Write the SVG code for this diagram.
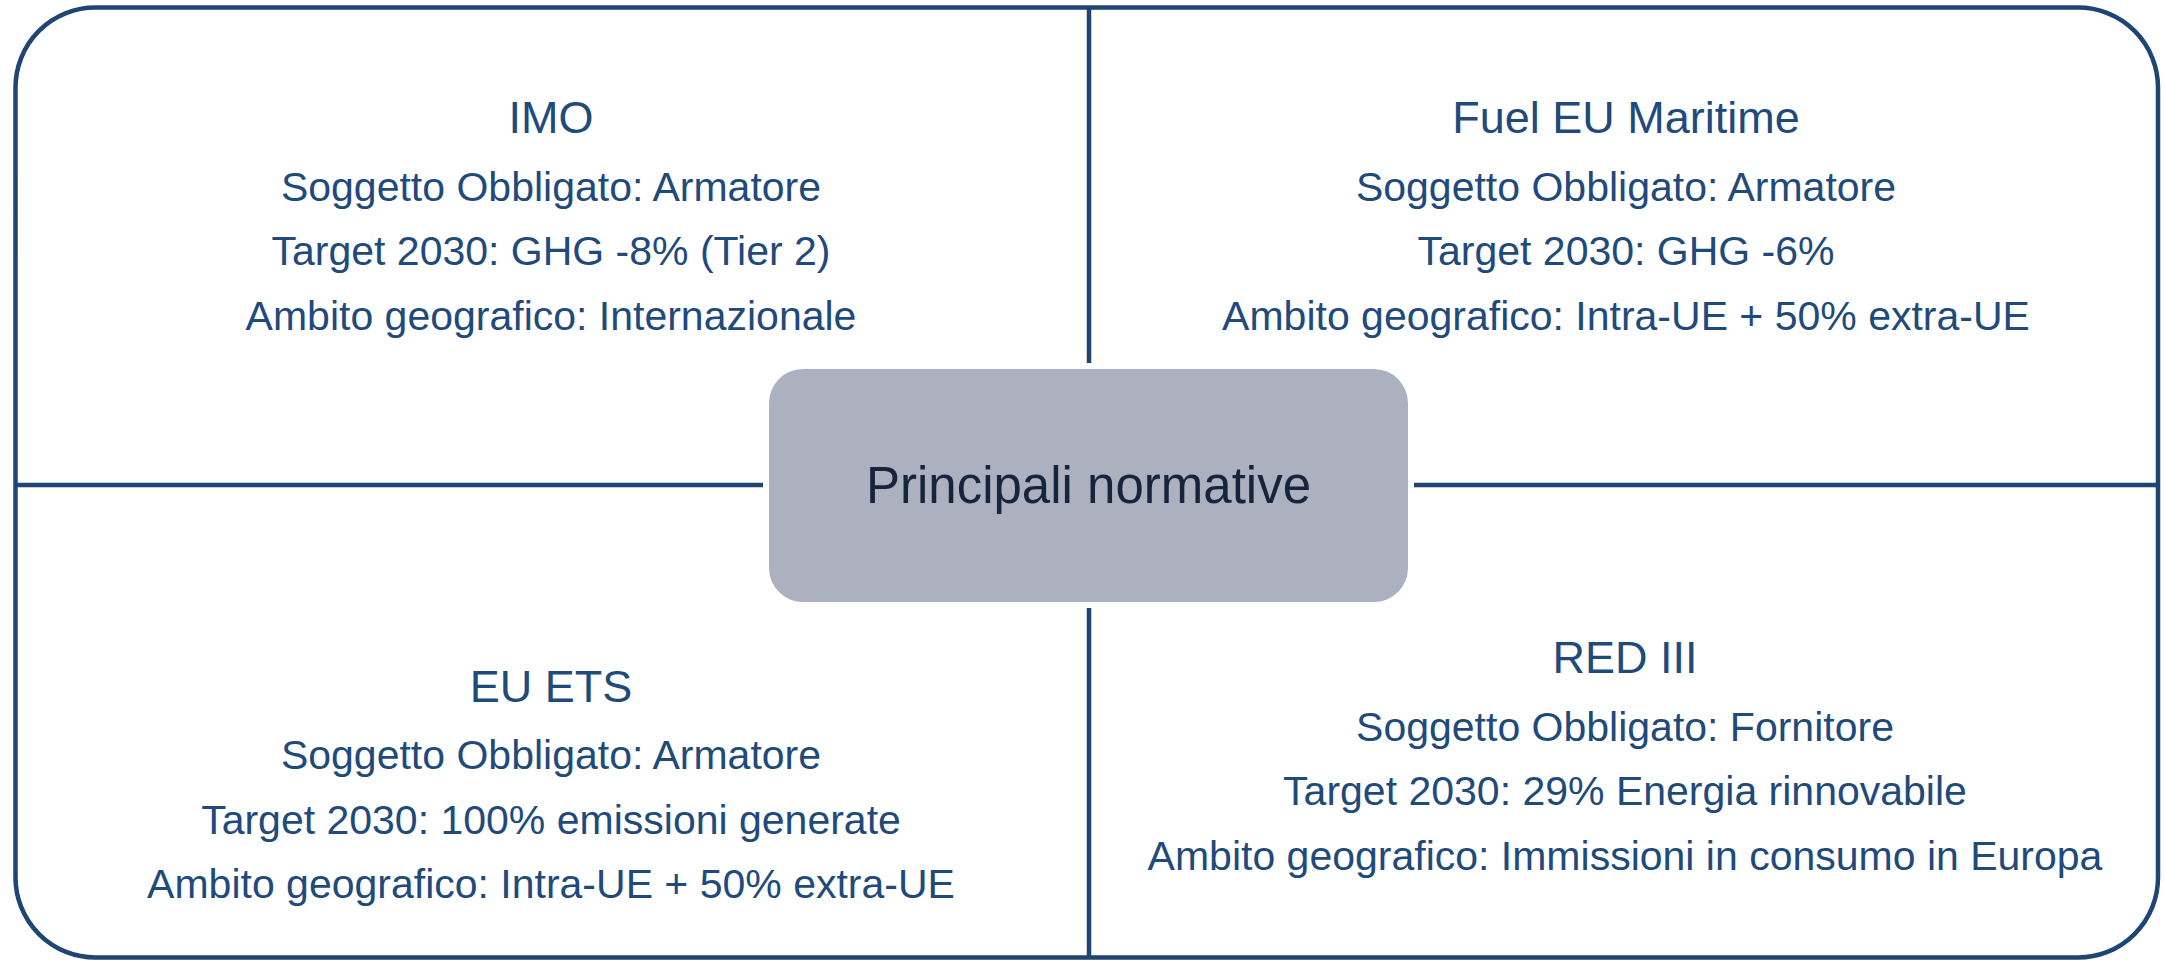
<svg xmlns="http://www.w3.org/2000/svg" width="2165" height="961" viewBox="0 0 2165 961">
<style>
.ln{stroke:#1F4573;stroke-width:4.5;fill:none}
.t{font-family:"Liberation Sans",Arial,sans-serif;fill:#1F4A7C;text-anchor:middle}
.h{font-size:45px}
.b{font-size:41px}
.c{font-family:"Liberation Sans",Arial,sans-serif;fill:#16243D;text-anchor:middle;font-size:51px}
</style>
<rect width="2165" height="961" fill="#FFFFFF"/>
<g id="frame">
<rect class="ln" x="15.5" y="7.5" width="2142.5" height="950" rx="80" ry="80"/>
</g>
<g id="connectors">
<line class="ln" x1="1089" y1="7.5" x2="1089" y2="363"/>
<line class="ln" x1="1089" y1="608" x2="1089" y2="957.5"/>
<line class="ln" x1="15.5" y1="485" x2="763" y2="485"/>
<line class="ln" x1="1414" y1="485" x2="2158" y2="485"/>
</g>
<g id="center">
<rect x="769" y="369" width="639" height="233" rx="34" ry="34" fill="#ABB1BE"/>
<text class="c" x="1088.5" y="503">Principali normative</text>
</g>
<g id="imo">
<text class="t h" x="551" y="133">IMO</text>
<text class="t b" x="551" y="201">Soggetto Obbligato: Armatore</text>
<text class="t b" x="551" y="265">Target 2030: GHG -8% (Tier 2)</text>
<text class="t b" x="551" y="330">Ambito geografico: Internazionale</text>
</g>
<g id="fueleu">
<text class="t h" x="1626" y="133">Fuel EU Maritime</text>
<text class="t b" x="1626" y="201">Soggetto Obbligato: Armatore</text>
<text class="t b" x="1626" y="265">Target 2030: GHG -6%</text>
<text class="t b" x="1626" y="330">Ambito geografico: Intra-UE + 50% extra-UE</text>
</g>
<g id="euets">
<text class="t h" x="551" y="702">EU ETS</text>
<text class="t b" x="551" y="769">Soggetto Obbligato: Armatore</text>
<text class="t b" x="551" y="834">Target 2030: 100% emissioni generate</text>
<text class="t b" x="551" y="898">Ambito geografico: Intra-UE + 50% extra-UE</text>
</g>
<g id="red3">
<text class="t h" x="1625" y="673">RED III</text>
<text class="t b" x="1625" y="741">Soggetto Obbligato: Fornitore</text>
<text class="t b" x="1625" y="805">Target 2030: 29% Energia rinnovabile</text>
<text class="t b" x="1625" y="870">Ambito geografico: Immissioni in consumo in Europa</text>
</g>
</svg>
